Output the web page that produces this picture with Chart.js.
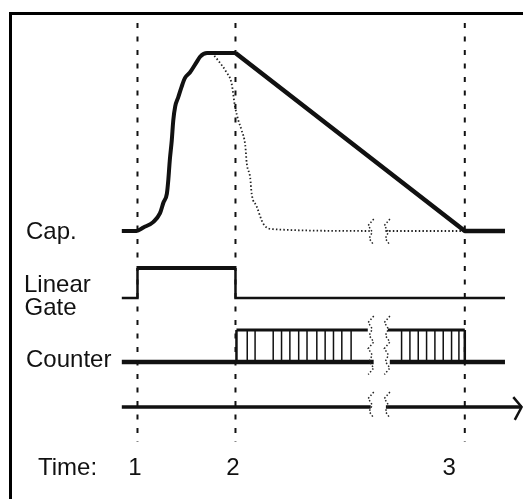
<!DOCTYPE html>
<html>
<head>
<meta charset="utf-8">
<script src="https://cdn.jsdelivr.net/npm/chart.js@4.4.0/dist/chart.umd.min.js"></script>
<style>
  html, body { margin: 0; padding: 0; background: #fff; }
</style>
</head>
<body>
<canvas id="timing" width="523" height="499"></canvas>
<script>
// time in ns; the three time markers
var markerTimes = [100, 200, 434];
var markerLabels = ['1', '2', '3'];
var markerLabelTimes = [97.5, 197.5, 418];

// capacitor voltage (0 = baseline, 1 = peak)
var capTime  = [84, 99, 106, 116, 123, 126.5, 130, 131.5, 133, 135, 136.5, 138.5, 141.5, 145, 148.5, 153.5, 160.5, 164, 171, 200, 434, 475];
var capLevel = [0, 0, 0.02, 0.05, 0.10, 0.16, 0.21, 0.29, 0.40, 0.51, 0.62, 0.70, 0.75, 0.81, 0.86, 0.89, 0.95, 0.98, 1, 1, 0, 0];
var capPeakEnd = 19; // index where the linear run-down starts

// dotted decay without the gate
var decayTime  = [176, 182, 191, 196, 199.5, 203, 206, 210, 211.5, 215, 216.5, 221.5, 228.5, 238.5, 337, 345, 353, 434];
var decayLevel = [1, 0.96, 0.89, 0.83, 0.70, 0.62, 0.57, 0.48, 0.38, 0.30, 0.21, 0.14, 0.04, 0.01, 0, null, 0, 0];

// linear gate
var gateTime  = [84, 100, 100, 200, 200, 475];
var gateLevel = [0, 0, 1, 1, 0, 0];

// counter
var counterBaseTime  = [84, 341, 349, 357.5, 475];
var counterBaseLevel = [0, 0, null, 0, 0];
var counterTopTime  = [201, 335, 345, 355.5, 434];
var counterTopLevel = [1, 1, null, 1, 1];
var counterEdges = [201, 434];
var counterTicks = [212, 220, 238.5, 247, 255.5, 264.5, 273, 283, 291.5, 300, 308.5, 318,
                    369.5, 378, 386.5, 395, 403.5, 412, 420.5, 428];

// time axis
var timeAxisTime  = [84, 338, 346, 353.5, 492];
var timeAxisLevel = [0, 0, null, 0, 0];
var arrowTime  = [483.5, 492, 485];
var arrowLevel = [0.33, 0, -0.43];

var breakTimes = [338, 354.5];

var W = 523, H = 499;
// pixel rows: [low, high]
var rows = {
    cap: [231, 53],
    gate: [298, 268],
    counter: [362, 330],
    axis: [407, 377],
    guide: [442, 23]
};

function rowAxis(r) {
    var d = r[0] - r[1];
    return { type: 'linear', display: false, min: -(H - r[0]) / d, max: r[0] / d };
}

function pts(xs, ys) {
    return xs.map(function (x, i) { return { x: x, y: ys[i] }; });
}

function verticals(xs) {
    var out = [];
    xs.forEach(function (x) {
        out.push({ x: x, y: 0 }, { x: x, y: 1 }, { x: x, y: null });
    });
    return out;
}

var ink = '#111';
var datasets = [];

markerTimes.forEach(function (t) {
    datasets.push({
        data: [{ x: t, y: 1 }, { x: t, y: 0 }],
        yAxisID: 'yGuide', borderColor: ink, borderWidth: 2, borderDash: [5, 8.5]
    });
});

var capPts = pts(capTime, capLevel);
datasets.push({
    data: capPts.slice(0, capPeakEnd + 1), yAxisID: 'yCap',
    borderColor: ink, borderWidth: 4, cubicInterpolationMode: 'monotone'
});
datasets.push({
    data: capPts.slice(capPeakEnd), yAxisID: 'yCap',
    borderColor: ink, borderWidth: 4.5, tension: 0, borderJoinStyle: 'round'
});
datasets.push({
    data: pts(decayTime, decayLevel), yAxisID: 'yCap',
    borderColor: '#222', borderWidth: 1.8, borderDash: [1.5, 2.2], cubicInterpolationMode: 'monotone'
});
datasets.push({
    data: pts(gateTime, gateLevel), yAxisID: 'yGate',
    borderColor: ink, borderWidth: 3,
    segment: {
        borderWidth: function (c) { return (c.p0.parsed.y === 1 && c.p1.parsed.y === 1) ? 4 : 2.5; }
    }
});
datasets.push({
    data: pts(counterBaseTime, counterBaseLevel), yAxisID: 'yCounter',
    borderColor: ink, borderWidth: 4.5
});
datasets.push({
    data: pts(counterTopTime, counterTopLevel), yAxisID: 'yCounter',
    borderColor: ink, borderWidth: 3
});
datasets.push({
    data: verticals(counterEdges), yAxisID: 'yCounter',
    borderColor: ink, borderWidth: 2.5
});
datasets.push({
    data: verticals(counterTicks), yAxisID: 'yCounter',
    borderColor: ink, borderWidth: 1.5
});
datasets.push({
    data: pts(timeAxisTime, timeAxisLevel), yAxisID: 'yAxisRow',
    borderColor: ink, borderWidth: 3.5
});
datasets.push({
    data: pts(arrowTime, arrowLevel), yAxisID: 'yAxisRow',
    borderColor: ink, borderWidth: 2.5
});

var font = '24px "Liberation Sans", Arial, sans-serif';

var diagramPlugin = {
    id: 'diagram',
    beforeDraw: function (chart) {
        var ctx = chart.ctx;
        ctx.save();
        ctx.fillStyle = '#fff';
        ctx.fillRect(0, 0, W, H);
        ctx.restore();
    },
    afterDatasetsDraw: function (chart) {
        var ctx = chart.ctx;
        var sx = chart.scales.x;
        // break marks
        ctx.save();
        ctx.strokeStyle = '#222';
        ctx.lineWidth = 1.5;
        ctx.setLineDash([1.5, 2]);
        var spans = [[219, 246], [316, 376], [392, 422]];
        var offs = [3, -2.5, 1.5, -1.5];
        breakTimes.forEach(function (bt) {
            var cx = sx.getPixelForValue(bt);
            spans.forEach(function (s) {
                ctx.beginPath();
                var i = 0;
                for (var y = s[0]; y <= s[1] + 0.1; y += 6.5) {
                    var x = cx + offs[i % 4];
                    if (i === 0) ctx.moveTo(x, y); else ctx.lineTo(x, y);
                    i++;
                }
                ctx.stroke();
            });
        });
        ctx.restore();
    },
    afterDraw: function (chart) {
        var ctx = chart.ctx;
        var sx = chart.scales.x;
        ctx.save();
        // frame
        ctx.strokeStyle = '#000';
        ctx.lineWidth = 3;
        ctx.strokeRect(10.5, 13.5, 700, 700);
        // row labels
        ctx.fillStyle = '#111';
        ctx.font = font;
        ctx.textBaseline = 'alphabetic';
        ctx.textAlign = 'left';
        var capY = chart.scales.yCap.getPixelForValue(0);
        var gateY = chart.scales.yGate.getPixelForValue(0);
        var cntY = chart.scales.yCounter.getPixelForValue(0);
        var axY = chart.scales.yAxisRow.getPixelForValue(0);
        ctx.fillText('Cap.', 26, capY + 8);
        ctx.fillText('Linear', 24, gateY - 6.5);
        ctx.fillText('Gate', 24.5, gateY + 17);
        ctx.fillText('Counter', 26, cntY + 4.5);
        ctx.fillText('Time:', 38, axY + 68);
        ctx.textAlign = 'center';
        markerLabels.forEach(function (lab, i) {
            ctx.fillText(lab, sx.getPixelForValue(markerLabelTimes[i]), axY + 68);
        });
        ctx.restore();
    }
};

new Chart(document.getElementById('timing'), {
    type: 'line',
    data: { datasets: datasets },
    options: {
        responsive: false,
        animation: false,
        layout: { padding: 0 },
        elements: { point: { radius: 0 }, line: { borderCapStyle: 'butt' } },
        plugins: { legend: { display: false }, tooltip: { enabled: false } },
        scales: {
            x: { type: 'linear', display: false, min: -40.3, max: 493.4 },
            yCap: rowAxis(rows.cap),
            yGate: rowAxis(rows.gate),
            yCounter: rowAxis(rows.counter),
            yAxisRow: rowAxis(rows.axis),
            yGuide: rowAxis(rows.guide)
        }
    },
    plugins: [diagramPlugin]
});
</script>
</body>
</html>
